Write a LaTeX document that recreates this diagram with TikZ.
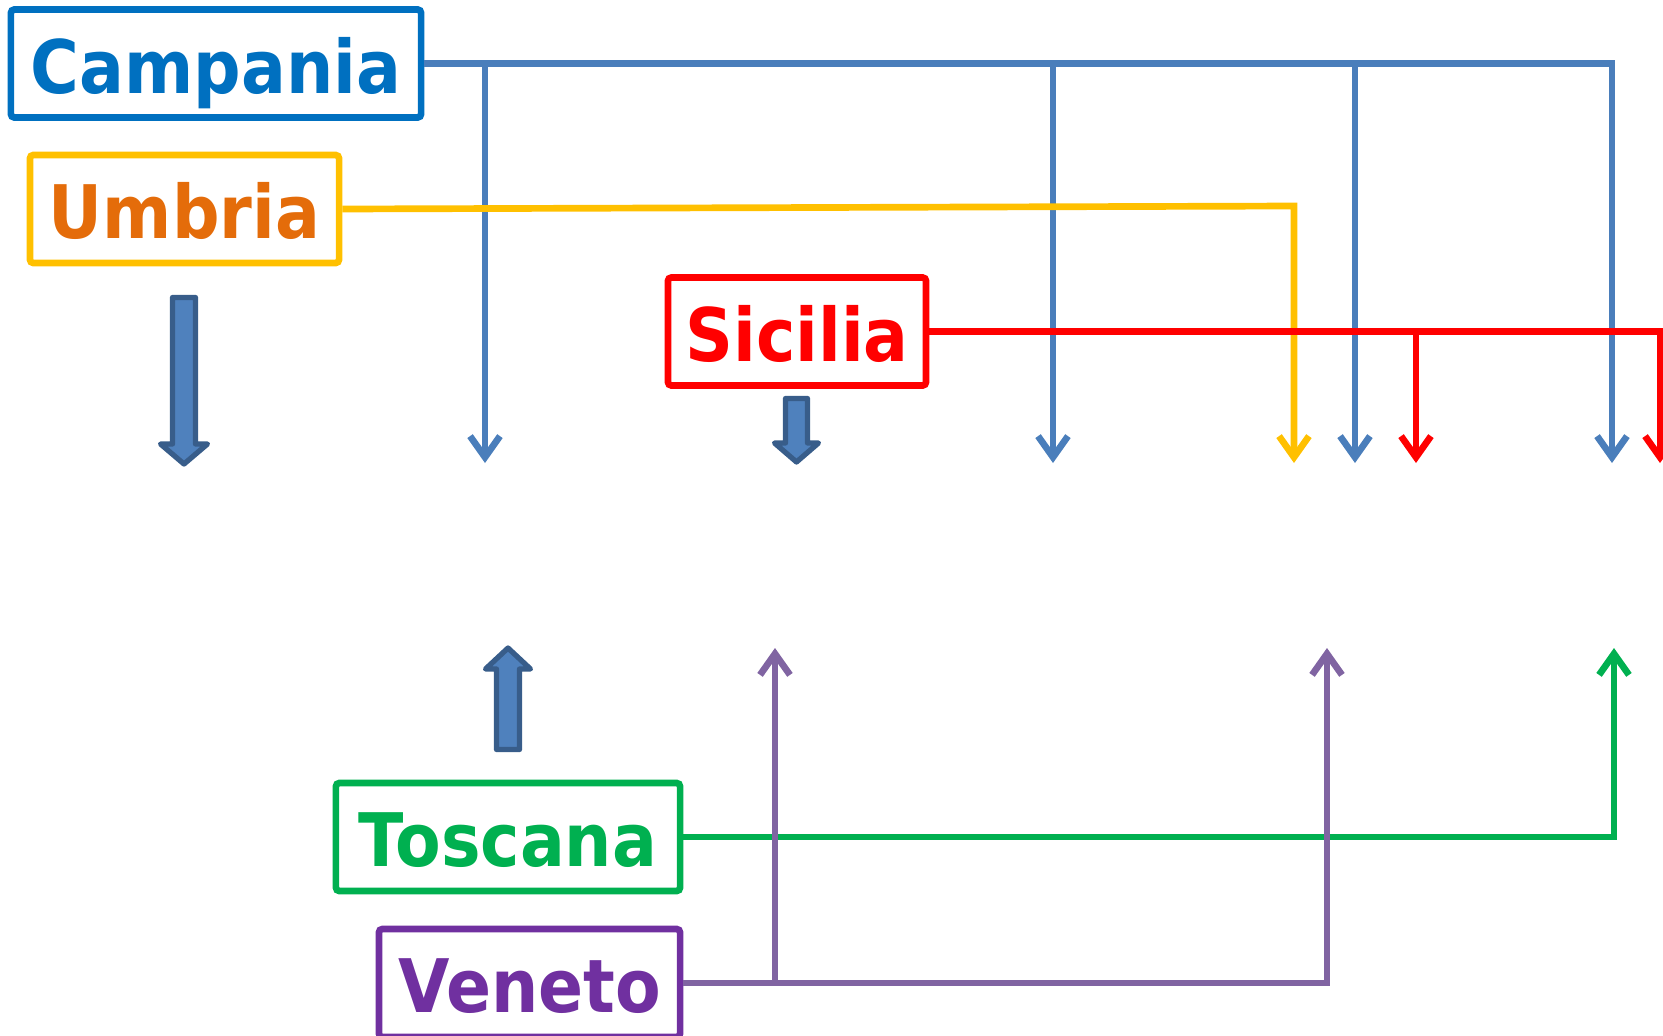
\documentclass[tikz,border=0pt]{standalone}
\usepackage{fontspec}
\setmainfont{DejaVu Sans}[FakeStretch=0.9]
\usepackage{tikz}
\usetikzlibrary{arrows.meta}
\definecolor{CampBlue}{HTML}{0070C0}
\definecolor{CampLine}{HTML}{4A7EBB}
\definecolor{UmbGold}{HTML}{FFC000}
\definecolor{UmbOrange}{HTML}{E46C0A}
\definecolor{SicRed}{HTML}{FF0000}
\definecolor{TosGreen}{HTML}{00B050}
\definecolor{VenPurple}{HTML}{7030A0}
\definecolor{VenLine}{HTML}{8064A2}
\definecolor{ArrowFill}{HTML}{4F81BD}
\definecolor{ArrowEdge}{HTML}{385D8A}

\tikzset{
  region/.style={draw, line width=1.9pt, rounded corners=1pt, inner sep=0pt,
    minimum height=1.08cm, text height=16.8pt, text depth=0pt,
    font=\fontsize{21}{25}\selectfont\bfseries},
  link/.style={line width=1.9pt},
  bigarrow/.style={fill=ArrowFill, draw=ArrowEdge, line width=1.5pt, line join=round},
}

\begin{document}
\begin{tikzpicture}[x=0.01cm, y=-0.01cm, >={Straight Barb[length=6pt,width=8.5pt]}]
        \useasboundingbox (0,0) rectangle (1663,1036);
        % Regions
        \node [region, CampBlue, minimum width=4.10cm] (campania) at (216,63.5) {Campania};
        \node [region, draw=UmbGold, text=UmbOrange, minimum width=3.09cm] (umbria) at (184.5,209) {Umbria};
        \node [region, SicRed, minimum width=2.58cm] (sicilia) at (797,331.5) {Sicilia};
        \node [region, TosGreen, minimum width=3.44cm] (toscana) at (508,837) {Toscana};
        \node [region, VenPurple, minimum width=3.01cm] (veneto) at (529.5,983) {Veneto};
        % Arrow ends
        \coordinate (c1) at (485,463);
        \coordinate (c2) at (1053,463);
        \coordinate (c3) at (1355,463);
        \coordinate (c4) at (1612,463);
        \coordinate (ubend) at (1294,206);
        \coordinate (u1) at (1294,463);
        \coordinate (s1) at (1416,463);
        \coordinate (s2) at (1660,463);
        \coordinate (t1) at (1614,648);
        \coordinate (v1) at (775,648);
        \coordinate (v2) at (1327,648);
        % Campania links
        \draw [link, CampLine, ->] (campania.east) -| (c4);
        \draw [link, CampLine, ->] (campania.east -| c1) -- (c1);
        \draw [link, CampLine, ->] (campania.east -| c2) -- (c2);
        \draw [link, CampLine, ->] (campania.east -| c3) -- (c3);
        % Umbria link
        \draw [link, UmbGold, ->] (umbria.east) -- (ubend) -- (u1);
        % Sicilia links
        \draw [link, SicRed, ->] (sicilia.east) -| (s2);
        \draw [link, SicRed, ->] (sicilia.east -| s1) -- (s1);
        % Toscana link
        \draw [link, TosGreen, ->] (toscana.east) -| (t1);
        % Veneto links
        \draw [link, VenLine, ->] (veneto.east) -| (v2);
        \draw [link, VenLine, ->] (veneto.east -| v1) -- (v1);
        % Block arrows
        \draw [bigarrow] (172.5,297.5) -- (195.5,297.5) -- (195.5,444) -- (207.5,444) -- (184,464)
              -- (160.5,444) -- (172.5,444) -- cycle;
        \draw [bigarrow] (785.5,398.5) -- (807.5,398.5) -- (807.5,443) -- (818.5,443) -- (796.5,462)
              -- (774.5,443) -- (785.5,443) -- cycle;
        \draw [bigarrow] (496.5,749.5) -- (519.5,749.5) -- (519.5,669) -- (530.5,669) -- (508,648)
              -- (485.5,669) -- (496.5,669) -- cycle;
\end{tikzpicture}
\end{document}
